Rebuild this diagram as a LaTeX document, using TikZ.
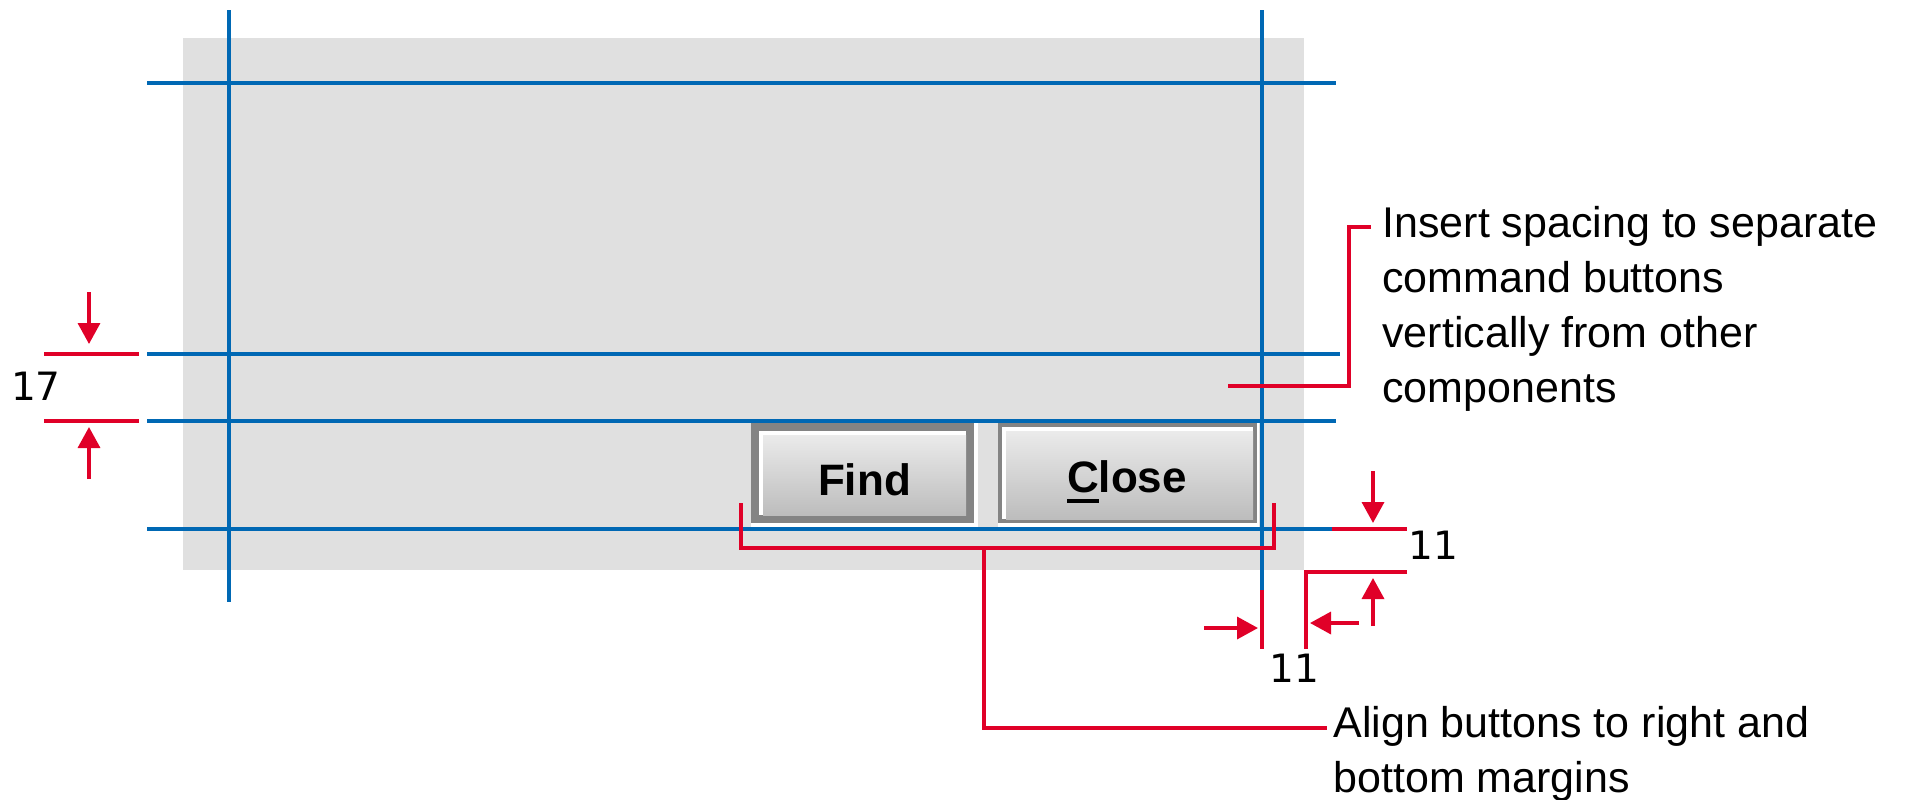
\documentclass[tikz,border=0pt]{standalone}
\usepackage{fontspec}
\setmainfont{Liberation Sans}
\newfontfamily\numfont{DejaVu Sans}
\usetikzlibrary{arrows.meta}
\definecolor{guideblue}{RGB}{0,104,180}
\definecolor{markred}{RGB}{224,0,40}
\definecolor{panelgray}{RGB}{224,224,224}
\definecolor{framegray}{RGB}{132,132,132}
\newcommand\keyletter[1]{\setbox0\hbox{#1}\rlap{\rule[-5.5pt]{\wd0}{2pt}}\box0}
\tikzset{
  guide/.style={guideblue, line width=1.75pt},
  redline/.style={markred, line width=1.75pt},
  dimarrow/.style={redline, -{Triangle[length=10.5pt,width=11pt]}},
  lbl/.style={font=\fontsize{21.5}{27.5}\selectfont, inner sep=0pt, align=left},
  num/.style={font=\numfont\fontsize{19.5}{24}\selectfont, inner sep=0pt},
  btntext/.style={font=\fontsize{22}{26}\selectfont\bfseries, inner sep=0pt},
  btnface/.style={top color=black!8, bottom color=black!26}
}
\begin{document}
\begin{tikzpicture}[x=0.5pt, y=-0.5pt]
\useasboundingbox (0,0) rectangle (1905,799);
% dialog panel
\fill[panelgray] (183,38) rectangle (1304,570);
% Find button (default)
\fill[white] (751,423) rectangle (978,527);
\fill[framegray] (751,423) rectangle (974,523);
\fill[white] (759,431) rectangle (966,515);
\shade[btnface] (763,435) rectangle (966,515);
\node[btntext, anchor=base] (find) at (864.5,495) {Find};
% Close button
\fill[white] (998,423) rectangle (1259,527);
\fill[framegray] (998,423) rectangle (1257,523);
\fill[white] (1002,427) rectangle (1253,519);
\shade[btnface] (1006,431) rectangle (1253,519);
\node[btntext, anchor=base] (close) at (1127,492) {\keyletter{C}lose};
% layout guides
\draw[guide] (229,10) -- (229,602);
\draw[guide] (1262,10) -- (1262,590);
\draw[guide] (147,83) -- (1336,83);
\draw[guide] (147,354) -- (1340,354);
\draw[guide] (147,421) -- (1336,421);
\draw[guide] (147,529) -- (1332,529);
% 17 spacing
\draw[redline] (44,354) -- (139,354);
\draw[redline] (44,421) -- (139,421);
\draw[dimarrow] (89,292) -- (89,344);
\draw[dimarrow] (89,479) -- (89,427);
\node[num, anchor=base] (vgap) at (36,400) {17};
% 11 bottom margin
\draw[redline] (1332,529) -- (1407,529);
\draw[redline] (1407,572) -- (1306,572) -- (1306,649);
\draw[dimarrow] (1373,471) -- (1373,523);
\draw[dimarrow] (1373,626) -- (1373,578);
\node[num, anchor=base] (bmargin) at (1433,559) {11};
% 11 right margin
\draw[redline] (1262,590) -- (1262,649);
\draw[dimarrow] (1204,628) -- (1258,628);
\draw[dimarrow] (1359,623) -- (1310,623);
\node[num, anchor=base] (rmargin) at (1294,682) {11};
% callouts (base = last line)
\node[lbl, anchor=base west] (ins) at (1382,402)
  {Insert spacing to separate\\command buttons\\vertically from other\\components};
\node[lbl, anchor=base west] (alg) at (1333,792)
  {Align buttons to right and\\bottom margins};
\coordinate (spc) at (1228,386);
\draw[redline] (spc) -| ([xshift=-16.5pt,yshift=87.5pt]ins.base west) -- ([xshift=-5.5pt,yshift=87.5pt]ins.base west);
\draw[redline] (741,503) -- (741,548) -- (1274,548) -- (1274,503);
\coordinate (brk) at (984,548);
\draw[redline] (brk) |- ([xshift=-3pt,yshift=32pt]alg.base west);
\end{tikzpicture}
\end{document}
